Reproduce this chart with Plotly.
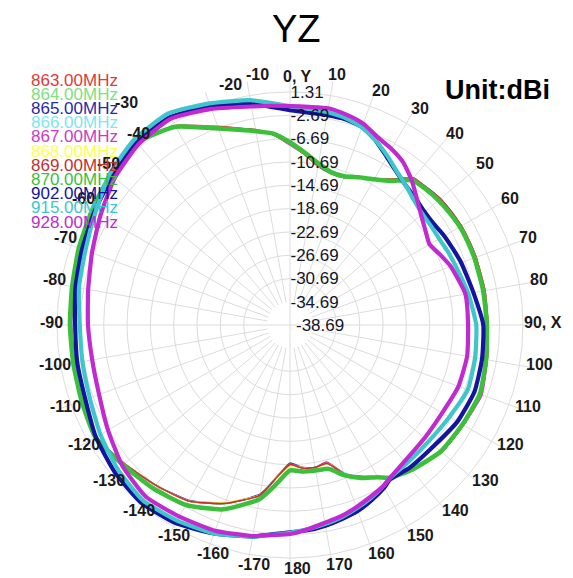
import math
import plotly.graph_objects as go

# ---------------- data (dBi) ----------------
THETA = [-180, -175, -170, -160, -150, -140, -130, -120, -110, -100, -90, -80, -70, -60, -50, -40,
         -30, -20, -10, -5, 0, 5, 10, 15, 20, 25, 30, 35, 40, 45, 50, 55, 60, 65, 70, 80, 90, 100,
         110, 120, 130, 140, 147, 150, 155, 160, 165, 170, 175, 180]

FREQ_LABELS = ["863.00MHz", "864.00MHz", "865.00MHz", "866.00MHz", "867.00MHz", "868.00MHz",
               "869.00MHz", "870.00MHz", "902.00MHz", "915.00MHz", "928.00MHz"]

G863 = [-14.6, -12.4, -9.0, -6.1, -3.8, -2.8, -1.6, -0.2, -0.7, -1.1, -1.1, -0.9, -0.2, 0.5, 1.3, 2.0,
        0.8, -2.4, -4.7, -5.9, -7.6, -9.3, -10.9, -11.7, -11.7, -10.7, -9.7, -8.1, -5.7, -5.4, -5.0, -4.9,
        -4.7, -4.7, -4.7, -4.7, -4.7, -4.3, -3.8, -4.3, -4.7, -6.1, -7.4, -8.6, -9.8, -11.5, -14.3, -13.8,
        -14.1, -14.6]
G864 = [-15.0, -12.5, -9.1, -6.0, -3.8, -2.8, -1.6, -0.2, -0.7, -1.0, -1.1, -0.9, -0.2, 0.5, 1.3, 2.0,
        0.8, -2.6, -4.7, -5.9, -7.6, -9.1, -10.9, -11.7, -11.7, -10.7, -9.7, -8.1, -5.9, -5.4, -5.0, -4.9,
        -4.7, -4.7, -4.7, -4.7, -4.6, -4.3, -3.8, -4.3, -4.7, -6.1, -7.4, -8.6, -9.8, -11.5, -14.0, -13.8,
        -14.1, -15.0]
G865 = [-14.9, -12.4, -9.2, -6.1, -3.9, -2.8, -1.6, -0.3, -0.7, -1.1, -1.2, -0.9, -0.2, 0.5, 1.3, 2.0,
        0.8, -2.6, -4.7, -5.9, -7.6, -9.3, -11.0, -11.7, -11.7, -10.7, -9.7, -8.1, -5.9, -5.4, -5.0, -4.9,
        -4.7, -4.7, -4.7, -4.8, -4.7, -4.3, -3.8, -4.3, -4.7, -6.1, -7.4, -8.6, -10.0, -11.5, -14.1, -13.8,
        -14.1, -14.9]
G866 = [-14.7, -12.6, -9.0, -6.1, -3.8, -2.8, -1.6, -0.2, -0.7, -1.1, -1.1, -0.9, -0.2, 0.5, 1.3, 2.0,
        0.8, -2.6, -4.7, -5.9, -7.6, -9.3, -10.9, -11.7, -11.7, -10.7, -9.7, -8.3, -5.9, -5.4, -5.0, -4.9,
        -4.7, -4.7, -4.7, -4.7, -4.7, -4.3, -3.8, -4.3, -4.7, -6.1, -7.4, -8.6, -9.8, -11.7, -14.1, -13.8,
        -14.1, -14.7]
G867 = [-14.8, -12.4, -9.0, -6.1, -3.8, -2.8, -1.6, -0.2, -0.7, -1.1, -1.1, -0.9, -0.2, 0.5, 1.3, 2.0,
        0.8, -2.6, -4.7, -5.9, -7.8, -9.3, -10.9, -11.7, -11.7, -10.7, -9.7, -8.1, -5.9, -5.4, -5.0, -4.9,
        -4.7, -4.7, -4.7, -4.7, -4.7, -4.3, -3.6, -4.3, -4.7, -6.1, -7.4, -8.6, -9.8, -11.5, -14.2, -13.8,
        -14.1, -14.8]
G868 = [-14.5, -12.4, -9.0, -6.3, -3.8, -2.8, -1.6, -0.2, -0.7, -1.1, -1.1, -0.9, -0.2, 0.5, 1.3, 2.0,
        0.8, -2.6, -4.7, -5.9, -7.6, -9.3, -10.9, -11.7, -11.7, -10.7, -9.7, -8.1, -5.9, -5.5, -5.0, -4.9,
        -4.7, -4.7, -4.7, -4.7, -4.7, -4.3, -3.8, -4.3, -4.7, -6.1, -7.4, -8.6, -9.8, -11.5, -14.1, -13.6,
        -14.1, -14.5]
G869 = [-14.7, -12.4, -9.0, -6.1, -3.8, -2.8, -1.6, -0.2, -0.7, -1.1, -1.1, -0.9, -0.2, 0.5, 1.3, 2.0,
        0.8, -2.6, -4.6, -5.9, -7.6, -9.3, -10.9, -11.7, -11.7, -10.7, -9.7, -8.1, -5.9, -5.4, -5.0, -4.8,
        -4.7, -4.7, -4.7, -4.7, -4.7, -4.3, -3.8, -4.3, -4.7, -6.1, -7.4, -8.6, -9.8, -11.5, -14.1, -13.8,
        -14.0, -14.7]
G870 = [-13.7, -11.2, -8.3, -5.0, -3.0, -2.1, -1.3, -0.1, -0.6, -0.9, -0.9, -0.7, -0.1, 0.6, 1.5, 2.2,
        0.6, -2.8, -4.9, -5.7, -7.3, -9.0, -10.5, -11.5, -11.5, -10.7, -9.8, -8.5, -6.2, -5.7, -5.4, -5.2,
        -5.0, -5.0, -5.0, -5.0, -4.9, -4.5, -4.0, -4.5, -4.9, -6.2, -7.4, -8.5, -9.7, -11.2, -13.1, -13.3,
        -13.4, -13.7]
G902 = [-3.1, -2.6, -1.8, -0.6, 0.6, 1.1, 0.6, -0.2, -1.3, -1.6, -1.8, -1.3, -0.7, 0.1, 1.1, 2.3,
        2.5, 1.3, -0.1, -1.1, -1.8, -2.1, -2.1, -2.1, -2.5, -3.8, -5.4, -6.7, -7.6, -8.1, -8.5, -8.5,
        -8.1, -7.8, -7.4, -6.7, -5.5, -5.2, -5.0, -5.5, -6.4, -6.7, -7.1, -6.4, -5.5, -4.7, -4.2, -3.7,
        -3.3, -3.1]
G915 = [-3.0, -2.5, -1.8, -0.6, 0.1, 0.6, -0.1, -1.1, -2.1, -2.5, -2.6, -1.9, -1.3, -0.1, 1.7, 2.9,
        3.2, 1.8, 0.5, -0.4, -1.1, -1.4, -1.6, -1.9, -2.6, -3.8, -5.2, -6.6, -7.6, -8.5, -9.0, -9.1,
        -9.1, -8.8, -8.5, -7.6, -6.7, -6.4, -6.2, -7.1, -7.6, -7.6, -7.3, -6.7, -5.9, -5.2, -4.5, -4.0,
        -3.5, -3.0]
G928 = [-2.8, -2.5, -1.9, -1.1, -0.7, -0.2, -1.1, -2.6, -3.8, -4.2, -4.0, -3.5, -2.5, -1.1, 0.6, 1.8,
        2.2, 0.8, -0.6, -0.9, -1.1, -1.1, -0.9, -1.3, -1.9, -3.1, -3.8, -4.7, -6.2, -7.9, -9.3, -10.3,
        -11.0, -10.2, -9.3, -8.1, -8.1, -7.8, -7.9, -8.5, -8.5, -8.1, -7.3, -6.7, -6.1, -5.4, -4.7, -4.2,
        -3.5, -2.8]

SERIES = [G863, G864, G865, G866, G867, G868, G869, G870, G902, G915, G928]

RADIAL_TICKS = [-34.69, -30.69, -26.69, -22.69, -18.69, -14.69, -10.69, -6.69, -2.69, 1.31]
CENTER_LABEL = "-38.69"

ANGLE_TICKS = list(range(-170, 190, 10))
ANGLE_LABELS = ["0, Y" if a == 0 else "90, X" if a == 90 else str(a) for a in ANGLE_TICKS]

# ---------------- style ----------------
COLORS = ["#e03a3a", "#7fe07f", "#2a2aa8", "#80e6ef", "#c83cc8", "#ffff50",
          "#c43030", "#3cc03c", "#1414a0", "#3ec6cc", "#c02ad0"]
WIDTHS = [1.6, 1.6, 1.6, 1.6, 1.6, 1.6, 1.6, 4.5, 4.2, 4.2, 4.2]
GRID = "#dcdcdc"
FONT = "Arial, Liberation Sans, Helvetica, sans-serif"

W, H = 573, 578
CX, CY = 290.0, 325.0          # pixel centre of the polar plot
PX_PER_DB = 5.833
HOLE_PX = 23.0
R_MIN, R_MAX = -34.69, 3.81
R_OUT = HOLE_PX + (R_MAX - R_MIN) * PX_PER_DB

# label placement (pixels): ring of angle labels + small nudges seen in the original
LCX, LCY, LR = 297.0, 322.0, 246.0
LABEL_NUDGE = {-30: (-48, -6), -20: (18, -6), -10: (3, -5), 10: (-3, -5)}

fig = go.Figure()
for name, vals, col, w in zip(FREQ_LABELS, SERIES, COLORS, WIDTHS):
    fig.add_trace(go.Scatterpolar(
        r=vals, theta=THETA, mode="lines", name=name,
        line=dict(color=col, width=w, shape="spline", smoothing=0.5),
        showlegend=False, hoverinfo="skip"))

fig.update_layout(
    width=W, height=H, margin=dict(l=0, r=0, t=0, b=0),
    paper_bgcolor="white", plot_bgcolor="white", showlegend=False,
    polar=dict(
        domain=dict(x=[(CX - R_OUT) / W, (CX + R_OUT) / W],
                    y=[1 - (CY + R_OUT) / H, 1 - (CY - R_OUT) / H]),
        hole=HOLE_PX / R_OUT,
        bgcolor="white",
        angularaxis=dict(rotation=90, direction="clockwise", tickmode="array",
                         tickvals=list(range(0, 360, 10)), showticklabels=False,
                         ticks="", showline=False, gridcolor=GRID, gridwidth=1),
        radialaxis=dict(range=[R_MIN, R_MAX], tickmode="array", tickvals=RADIAL_TICKS,
                        ticktext=["%.2f" % v for v in RADIAL_TICKS], angle=90, tickangle=90,
                        side="clockwise", showline=False, ticks="", gridcolor=GRID, gridwidth=1,
                        tickfont=dict(family=FONT, size=17, color="#15152a"), layer="above traces"),
    ),
)

def px(x, y):
    return x / W, 1 - y / H

ann = []
# angular labels
for a, t in zip(ANGLE_TICKS, ANGLE_LABELS):
    dx, dy = LABEL_NUDGE.get(a, (0, 0))
    x = LCX + LR * math.sin(math.radians(a)) + dx
    y = LCY - LR * math.cos(math.radians(a)) + dy
    xp, yp = px(x, y)
    ann.append(dict(x=xp, y=yp, xref="paper", yref="paper", text="<b>%s</b>" % t, showarrow=False,
                    font=dict(family=FONT, size=16, color="#1a1a1a"), xanchor="center", yanchor="middle"))
# centre radial label
xp, yp = px(CX + 4, CY)
ann.append(dict(x=xp, y=yp, xref="paper", yref="paper", text=CENTER_LABEL, showarrow=False,
                font=dict(family=FONT, size=17, color="#15152a"), xanchor="left", yanchor="middle"))
# colour legend (text only)
for i, (name, col) in enumerate(zip(FREQ_LABELS, COLORS)):
    xp, yp = px(29, 80 + i * 14.2)
    ann.append(dict(x=xp, y=yp, xref="paper", yref="paper", text=name, showarrow=False,
                    font=dict(family=FONT, size=17, color=col), xanchor="left", yanchor="middle"))
# title + unit
xp, yp = px(296, 29)
ann.append(dict(x=xp, y=yp, xref="paper", yref="paper", text="YZ", showarrow=False,
                font=dict(family=FONT, size=38, color="black"), xanchor="center", yanchor="middle"))
xp, yp = px(497, 90)
ann.append(dict(x=xp, y=yp, xref="paper", yref="paper", text="<b>Unit:dBi</b>", showarrow=False,
                font=dict(family=FONT, size=27, color="black"), xanchor="center", yanchor="middle"))
fig.update_layout(annotations=ann)

# grid cross through the centre hole
shapes = []
for (x0, y0, x1, y1) in [(CX - HOLE_PX, CY, CX + HOLE_PX, CY), (CX, CY - HOLE_PX, CX, CY + HOLE_PX)]:
    a0 = px(x0, y0); a1 = px(x1, y1)
    shapes.append(dict(type="line", xref="paper", yref="paper", x0=a0[0], y0=a0[1], x1=a1[0], y1=a1[1],
                       line=dict(color=GRID, width=1), layer="below"))
fig.update_layout(shapes=shapes)

fig.write_html("out.html")
